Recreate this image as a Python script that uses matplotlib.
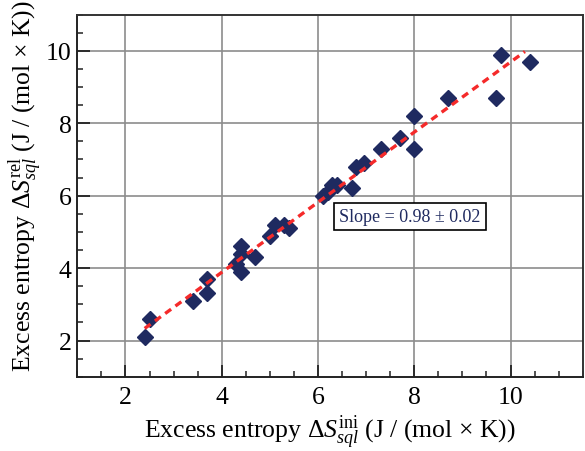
import numpy as np
import matplotlib
matplotlib.use("Agg")
import matplotlib.pyplot as plt
from matplotlib.ticker import MultipleLocator

# Data
x_ini = [2.4, 2.5, 3.4, 3.7, 3.7, 4.3, 4.4, 4.4, 4.4, 4.7, 5.0, 5.1, 5.3, 5.4,
         6.1, 6.2, 6.3, 6.4, 6.7, 6.8, 6.95, 7.3, 7.7, 8.0, 8.0, 8.7, 9.7, 9.8, 10.4]
y_rel = [2.1, 2.6, 3.1, 3.3, 3.7, 4.1, 3.9, 4.4, 4.6, 4.3, 4.9, 5.2, 5.2, 5.1,
         6.0, 6.1, 6.3, 6.3, 6.2, 6.8, 6.9, 7.3, 7.6, 8.2, 7.3, 8.7, 8.7, 9.9, 9.7]
fit_range = [2.4, 10.3]
slope_label = "Slope = 0.98 ± 0.02"
x_ticks = [2, 4, 6, 8, 10]
y_ticks = [2, 4, 6, 8, 10]

plt.rcParams['font.family'] = ['Liberation Serif', 'DejaVu Serif']
plt.rcParams['mathtext.fontset'] = 'custom'
plt.rcParams['mathtext.rm'] = 'Liberation Serif'
plt.rcParams['mathtext.it'] = 'Liberation Serif:italic'
plt.rcParams['mathtext.bf'] = 'Liberation Serif:bold'

navy = '#1f2a60'
red = '#f52a2a'

fig = plt.figure(figsize=(5.85, 4.52), dpi=100)
ax = fig.add_axes([77.3/585, 1-377.7/452, (582.7-77.3)/585, (377.7-15.7)/452])

ax.set_xlim(1, 11.5)
ax.set_ylim(1, 11)
ax.set_xticks(x_ticks)
ax.set_yticks(y_ticks)
ax.xaxis.set_minor_locator(MultipleLocator(0.5))
ax.yaxis.set_minor_locator(MultipleLocator(0.5))
ax.grid(True, which='major', color='#8c8c8c', linewidth=1.2, zorder=0)
ax.set_axisbelow(True)

ax.tick_params(which='major', direction='in', length=9, width=1.3, labelsize=18.5,
               pad=4, top=False, right=False, color='#222222')
ax.tick_params(axis='x', which='major', pad=7)
ax.tick_params(which='minor', direction='in', length=4.5, width=1.1,
               top=False, right=False, color='#222222')
for s in ax.spines.values():
    s.set_linewidth(1.4)
    s.set_color('#333333')
ax.spines['left'].set_color('#222222')
ax.spines['bottom'].set_color('#222222')

ax.plot(x_ini, y_rel, linestyle='none', marker='D', ms=8.5, color=navy,
        markeredgecolor=navy, zorder=3)

coef = np.polyfit(x_ini, y_rel, 1)
fx = np.array(fit_range)
ax.plot(fx, np.polyval(coef, fx), linestyle=(0, (2.2, 1.6)), color=red,
        linewidth=2.4, zorder=4)

ax.text(0.5186, 0.4425, slope_label, transform=ax.transAxes, fontsize=13,
        color=navy, ha='left', va='center',
        bbox=dict(boxstyle='square,pad=0.3', facecolor='white',
                  edgecolor='black', linewidth=1.2), zorder=5)

ax.set_xlabel(r"Excess entropy $\Delta S_{sql}^{\mathrm{ini}}$ (J / (mol × K))",
              fontsize=18.5, labelpad=2.5)
ax.set_ylabel(r"Excess entropy $\Delta S_{sql}^{\mathrm{rel}}$ (J / (mol × K))",
              fontsize=18.5)
ax.yaxis.set_label_coords(-0.066, 0.53)

fig.savefig('out.png', dpi=100)
